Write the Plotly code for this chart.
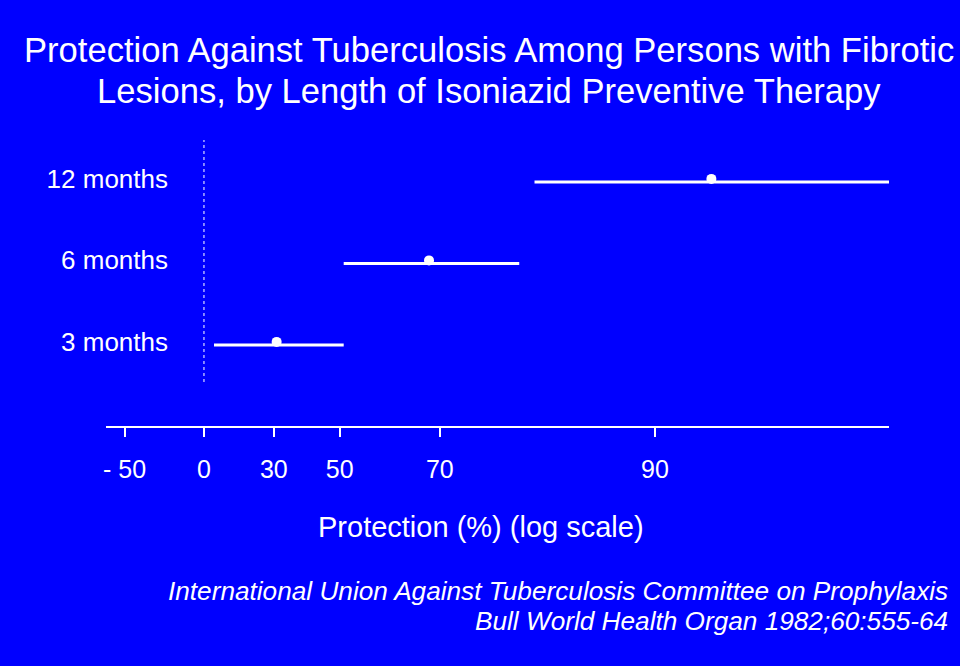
import numpy as np
import plotly.graph_objects as go

# ---- data (protection %) ----
durations = ["3 months", "6 months", "12 months"]
protection_point = [31, 68.3, 92.5]
protection_low = [5, 51, 81.5]
protection_high = [51, 80, 97]

tick_protection = [-50, 0, 30, 50, 70, 90]
tick_labels = ["- 50", "0", "30", "50", "70", "90"]

title_lines = ["Protection Against Tuberculosis Among Persons with Fibrotic",
               "Lesions, by Length of Isoniazid Preventive Therapy"]
x_title = "Protection (%) (log scale)"
source_lines = ["International Union Against Tuberculosis Committee on Prophylaxis",
                "Bull World Health Organ 1982;60:555-64"]

# ---- derived: relative risk on a reversed log axis ----
def rr(p):
    return 1 - np.asarray(p, dtype=float) / 100.0

rows = np.arange(1, len(durations) + 1)
marker_lift = 0.038

FONT = "Liberation Sans, Arial, sans-serif"
WHITE = "white"
BG = "#0000FF"

fig = go.Figure()

# reference line at 0 % protection (RR = 1)
fig.add_trace(go.Scatter(
    x=[1, 1], y=[0.546, 3.515], mode="lines",
    line=dict(color="rgba(205,205,255,0.85)", width=1.5, dash="dot"),
    hoverinfo="skip", showlegend=False))

# confidence intervals
for r, lo, hi in zip(rows, protection_low, protection_high):
    fig.add_trace(go.Scatter(
        x=rr([lo, hi]), y=[r, r], mode="lines",
        line=dict(color=WHITE, width=3),
        showlegend=False, hoverinfo="skip", cliponaxis=False))

# point estimates
fig.add_trace(go.Scatter(
    x=rr(protection_point), y=rows + marker_lift, mode="markers",
    marker=dict(color=WHITE, size=10, symbol="circle"),
    showlegend=False, cliponaxis=False,
    text=durations, hovertemplate="%{text}<extra></extra>"))

fig.update_layout(
    width=960, height=666,
    paper_bgcolor=BG, plot_bgcolor=BG,
    margin=dict(l=106, r=71, t=140, b=240),
    font=dict(family=FONT, color=WHITE),
    showlegend=False,
    xaxis=dict(
        type="log",
        range=[np.log10(np.exp(0.5)), np.log10(0.03029)],
        tickvals=list(rr(tick_protection)),
        ticktext=tick_labels,
        showgrid=False, zeroline=False,
        showline=True, linecolor=WHITE, linewidth=2,
        ticks="outside", ticklen=9, tickwidth=2, tickcolor=WHITE,
        tickfont=dict(size=25, color=WHITE, family=FONT),
        ticklabelstandoff=11,
    ),
    yaxis=dict(
        range=[0.006, 3.515],
        tickvals=list(rows + marker_lift),
        ticktext=durations,
        showgrid=False, zeroline=False, showline=False,
        ticks="", anchor="free", position=(168 - 106) / 783,
        tickfont=dict(size=26, color=WHITE, family=FONT),
    ),
)

# title (two centred lines)
for txt, ypx in zip(title_lines, [50, 91]):
    fig.add_annotation(
        text=txt, xref="paper", yref="paper",
        x=(489 - 106) / 783, y=1 + (140 - ypx) / 286,
        xanchor="center", yanchor="middle", showarrow=False,
        font=dict(size=34.6, color=WHITE, family=FONT))

# x-axis title
fig.add_annotation(
    text=x_title, xref="paper", yref="paper",
    x=(481 - 106) / 783, y=-(527 - 426) / 286,
    xanchor="center", yanchor="middle", showarrow=False,
    font=dict(size=29, color=WHITE, family=FONT))

# source (right-aligned italic lines)
for txt, ypx in zip(source_lines, [591, 621]):
    fig.add_annotation(
        text="<i>" + txt + "</i>", xref="paper", yref="paper",
        x=(950 - 106) / 783, y=-(ypx - 426) / 286,
        xanchor="right", yanchor="middle", showarrow=False,
        font=dict(size=26.2, color=WHITE, family=FONT))

fig.write_html("out.html")
